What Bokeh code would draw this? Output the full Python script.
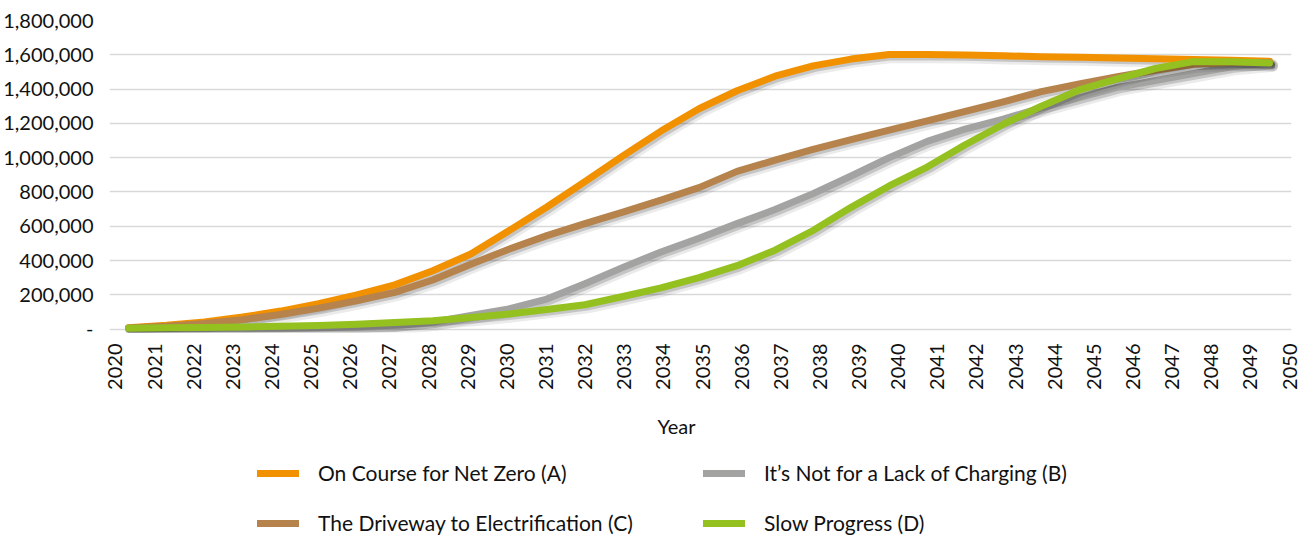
import math
from bokeh.plotting import figure
from bokeh.layouts import column
from bokeh.models import (ColumnDataSource, Range1d, LinearAxis, FixedTicker,
                          NumeralTickFormatter, Legend, LegendItem, Title)
from bokeh.transform import dodge
from bokeh.embed import file_html
from bokeh.resources import INLINE

years = list(range(2020, 2051))
net_zero_a = [8000, 22000, 42000, 70000, 105000, 148000, 200000, 258000, 340000, 438000,
              573000, 712000, 860000, 1010000, 1155000, 1285000, 1390000, 1475000, 1535000, 1575000,
              1602000, 1601000, 1599000, 1594000, 1589000, 1586000, 1581000, 1577000, 1572000, 1568000,
              1563000]
charging_b = [2000, 3000, 4000, 5000, 6000, 8000, 11000, 18000, 40000, 80000,
              118000, 175000, 265000, 360000, 450000, 530000, 615000, 697000, 790000, 893000,
              1000000, 1095000, 1167000, 1225000, 1290000, 1350000, 1410000, 1450000, 1490000, 1530000,
              1550000]
driveway_c = [6000, 16000, 32000, 55000, 85000, 122000, 165000, 214000, 286000, 378000,
              466000, 545000, 615000, 682000, 752000, 825000, 920000, 985000, 1048000, 1105000,
              1160000, 1215000, 1270000, 1325000, 1385000, 1430000, 1472000, 1510000, 1545000, 1555000,
              1555000]
slow_d = [5000, 7000, 9000, 12000, 16000, 21000, 28000, 38000, 49000, 67000,
          88000, 114000, 142000, 190000, 240000, 300000, 370000, 460000, 575000, 710000,
          835000, 945000, 1075000, 1195000, 1300000, 1395000, 1460000, 1520000, 1560000, 1560000,
          1552000]

series_names = ["On Course for Net Zero (A)", "It\u2019s Not for a Lack of Charging (B)",
                "The Driveway to Electrification (C)", "Slow Progress (D)"]
series_keys = ["a", "b", "c", "d"]
series_colors = ["#F29100", "#A3A3A2", "#B5834B", "#94C11F"]
y_ticks = [0, 200000, 400000, 600000, 800000, 1000000, 1200000, 1400000, 1600000, 1800000]
x_label_ticks = years

FONT = "Lato"

src = ColumnDataSource(dict(x=years, a=net_zero_a, b=charging_b, c=driveway_c, d=slow_d))

p = figure(width=1296, height=460, frame_width=1182, frame_height=312,
           output_backend="svg", toolbar_location=None,
           x_range=Range1d(2019.5, 2050.58), y_range=Range1d(-20000, 1800000),
           x_axis_type=None, y_axis_location="left",
           min_border_left=104, min_border_right=10, min_border_top=20,
           min_border_bottom=0)
p.outline_line_color = None
p.background_fill_color = "white"
p.border_fill_color = "white"

p.extra_x_ranges = {"labels": Range1d(2019.847, 2050.05)}

yax = p.yaxis[0]
yax.ticker = FixedTicker(ticks=y_ticks)
yax.formatter = NumeralTickFormatter(format="0,0")
yax.major_label_overrides = {0: "-"}
yax.axis_line_color = None
yax.major_tick_line_color = None
yax.minor_tick_line_color = None
yax.major_tick_out = 0
yax.major_tick_in = 0
yax.major_label_standoff = 16
yax.major_label_text_font = FONT
yax.major_label_text_font_size = "20px"
yax.major_label_text_color = "#111111"

p.ygrid.ticker = FixedTicker(ticks=y_ticks)
p.ygrid.grid_line_color = "#D9D9D9"
p.ygrid.grid_line_width = 1.6
p.xgrid.visible = False

xax = LinearAxis(x_range_name="labels", ticker=FixedTicker(ticks=x_label_ticks))
xax.axis_line_color = None
xax.major_tick_line_color = None
xax.minor_tick_line_color = None
xax.major_tick_out = 0
xax.major_tick_in = 0
xax.major_label_orientation = math.pi / 2
xax.major_label_standoff = 11
xax.major_label_text_font = FONT
xax.major_label_text_font_size = "20px"
xax.major_label_text_color = "#111111"
p.add_layout(xax, "below")

for key, col in zip(series_keys, series_colors):
    p.line(x=dodge("x", 0.08), y=dodge(key, -18000), source=src,
           line_color="black", line_alpha=0.08, line_width=11, line_join="round", line_cap="round")
    p.line(x=dodge("x", 0.06), y=dodge(key, -14000), source=src,
           line_color="black", line_alpha=0.16, line_width=7, line_join="round", line_cap="round")
    p.line(x="x", y=key, source=src, line_color=col, line_width=7,
           line_join="round", line_cap="round")

title = Title(text="Year", align="left", vertical_align="top", offset=548, text_font=FONT,
              text_font_size="20px", text_font_style="normal", text_color="#111111",
              standoff=42)
p.add_layout(title, "below")

leg = figure(width=1296, height=75, output_backend="svg", toolbar_location=None,
             x_range=Range1d(0, 1), y_range=Range1d(0, 1),
             x_axis_location=None, y_axis_location=None,
             min_border_left=0, min_border_right=0, min_border_top=0, min_border_bottom=0)
leg.outline_line_color = None
leg.grid.visible = False
leg.background_fill_color = "white"
leg.border_fill_color = "white"

items = []
for key, name, col in zip(series_keys, series_names, series_colors):
    r = leg.line(x="x", y=key, source=src, line_color=col, line_width=7,
                 line_join="round", line_cap="round")
    items.append(LegendItem(label=name, renderers=[r]))

legend = Legend(items=items, ncols=2, orientation="horizontal", location=(148, 0),
                glyph_width=42, glyph_height=20, label_height=20, label_width=360,
                label_standoff=19, spacing=25, padding=0, margin=0,
                label_text_font=FONT, label_text_font_size="21px", label_text_color="#111111",
                border_line_color=None, background_fill_alpha=0)
leg.add_layout(legend, "center")

layout = column(p, leg, spacing=0)
open("out.html", "w").write(file_html(layout, INLINE))
